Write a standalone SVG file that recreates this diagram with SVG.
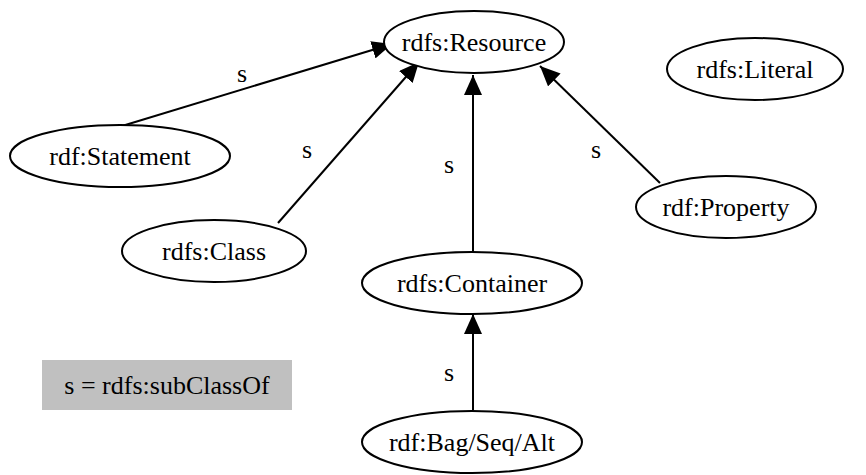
<svg xmlns="http://www.w3.org/2000/svg" width="866" height="475" viewBox="0 0 866 475">
  <style>
    .node ellipse { fill: #ffffff; stroke: #000000; stroke-width: 2; }
    text { font-family: "Liberation Serif", "Times New Roman", serif; font-size: 26px; fill: #000000; text-anchor: middle; }
    .edge line { stroke: #000000; stroke-width: 2; }
  </style>
  <defs>
    <marker id="arrow" viewBox="0 0 20 18" refX="20" refY="9" markerWidth="20" markerHeight="18" markerUnits="userSpaceOnUse" orient="auto">
      <polygon points="0,0 20,9 0,18" fill="#000000"/>
    </marker>
  </defs>
  <rect width="866" height="475" fill="#ffffff"/>

  <!-- subClassOf connectors -->
  <g id="edges" class="edge">
    <line x1="122" y1="126" x2="392" y2="44" marker-end="url(#arrow)"/>
    <line x1="278" y1="223" x2="419" y2="62" marker-end="url(#arrow)"/>
    <line x1="473" y1="252" x2="473" y2="75" marker-end="url(#arrow)"/>
    <line x1="660" y1="183" x2="540" y2="66" marker-end="url(#arrow)"/>
    <line x1="473" y1="410" x2="473" y2="314" marker-end="url(#arrow)"/>
    <text x="242" y="82">s</text>
    <text x="307" y="158">s</text>
    <text x="449" y="173">s</text>
    <text x="596" y="158">s</text>
    <text x="449" y="381">s</text>
  </g>

  <g id="resource" class="node">
    <ellipse cx="474" cy="42" rx="90" ry="31"/>
    <text x="474" y="51">rdfs:Resource</text>
  </g>
  <g id="literal" class="node">
    <ellipse cx="755" cy="69" rx="88" ry="31"/>
    <text x="755" y="78">rdfs:Literal</text>
  </g>
  <g id="statement" class="node">
    <ellipse cx="120" cy="156" rx="110" ry="31"/>
    <text x="120" y="165">rdf:Statement</text>
  </g>
  <g id="class" class="node">
    <ellipse cx="214" cy="251" rx="92" ry="31"/>
    <text x="214" y="260">rdfs:Class</text>
  </g>
  <g id="property" class="node">
    <ellipse cx="726" cy="207" rx="90" ry="31"/>
    <text x="726" y="216">rdf:Property</text>
  </g>
  <g id="container" class="node">
    <ellipse cx="472" cy="283" rx="110" ry="31"/>
    <text x="472" y="292">rdfs:Container</text>
  </g>
  <g id="bag" class="node">
    <ellipse cx="472" cy="442" rx="110" ry="31"/>
    <text x="472" y="451">rdf:Bag/Seq/Alt</text>
  </g>

  <g id="legend">
    <rect x="42" y="360" width="250" height="50" fill="#c0c0c0"/>
    <text x="167" y="394">s = rdfs:subClassOf</text>
  </g>
</svg>
